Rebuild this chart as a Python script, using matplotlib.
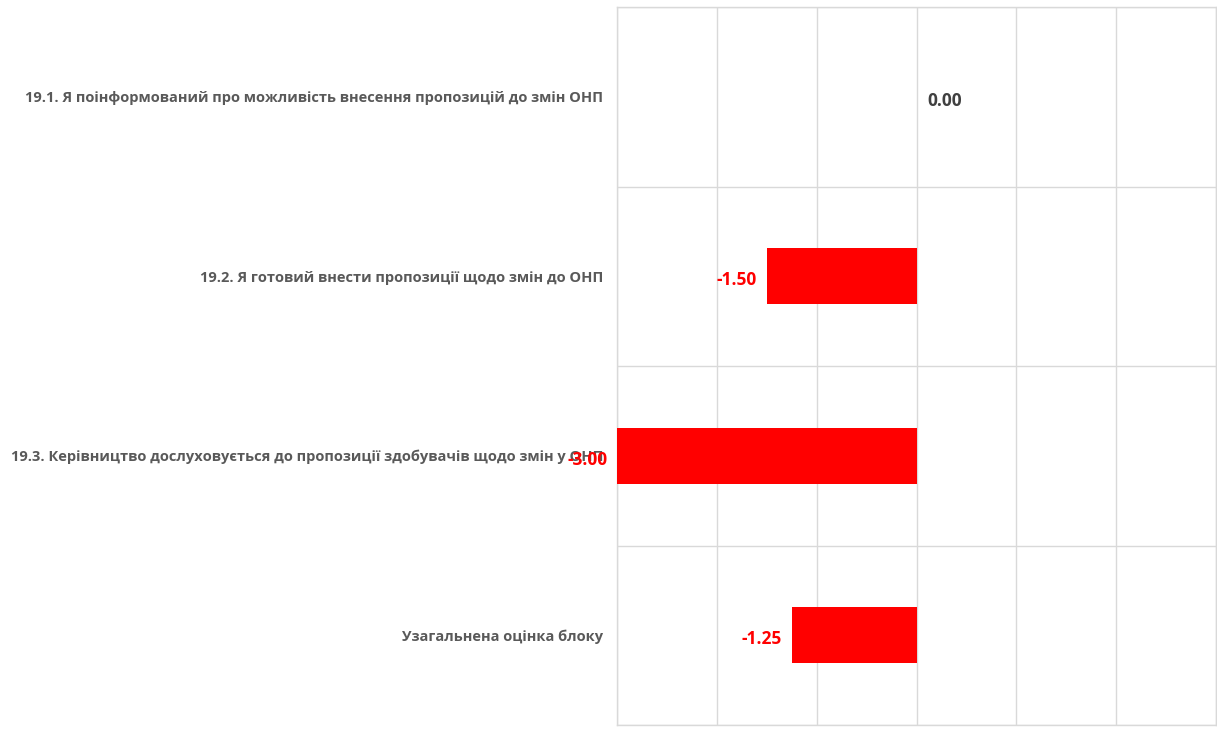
import matplotlib
matplotlib.use("Agg")
import matplotlib.pyplot as plt
from matplotlib.ticker import FixedLocator

categories = [
    "19.1. Я поінформований про можливість внесення пропозицій до змін ОНП",
    "19.2. Я готовий внести пропозиції щодо змін до ОНП",
    "19.3. Керівництво дослуховується до пропозиції здобувачів щодо змін у ОНП",
    "Узагальнена оцінка блоку",
]
values = [0.00, -1.50, -3.00, -1.25]

plt.rcParams['font.family'] = ['Open Sans', 'DejaVu Sans']

fig = plt.figure(figsize=(12.17, 7.37), dpi=100)
ax = fig.add_axes([617/1217, 1 - 725/737, (1216 - 617)/1217, (725 - 7)/737])

ypos = list(range(len(categories)))
ax.barh(ypos, values, height=0.31, color='#ff0000', linewidth=0, zorder=3)

ax.set_xlim(-3, 3)
ax.set_ylim(len(categories) - 0.5, -0.5)
ax.set_xticks([-3, -2, -1, 0, 1, 2, 3])
ax.set_xticklabels([])
ax.tick_params(axis='x', length=0)
ax.set_yticks(ypos)
ax.set_yticklabels(categories, fontsize=10.5, fontweight='bold', color='#595959')
ax.tick_params(axis='y', length=0, pad=10)
ax.yaxis.set_minor_locator(FixedLocator([y - 0.5 for y in range(len(categories) + 1)]))
ax.tick_params(axis='y', which='minor', length=0)
ax.grid(axis='x', which='major', color='#d9d9d9', linewidth=1, zorder=0)
ax.grid(axis='y', which='minor', color='#d9d9d9', linewidth=1, zorder=0)
ax.grid(axis='y', which='major', visible=False)
for s in ax.spines.values():
    s.set_color('#d9d9d9')
    s.set_linewidth(1)

for y, v in zip(ypos, values):
    if v < 0:
        ax.annotate(f"{v:.2f}", (v, y), xytext=(-7, -3), textcoords='offset points',
                    ha='right', va='center', fontsize=12.5, fontweight='bold', color='#ff0000', zorder=4)
    else:
        ax.annotate(f"{v:.2f}", (v, y), xytext=(8, -3), textcoords='offset points',
                    ha='left', va='center', fontsize=12.5, fontweight='bold', color='#404040', zorder=4)

fig.savefig("out.png", dpi=100)
